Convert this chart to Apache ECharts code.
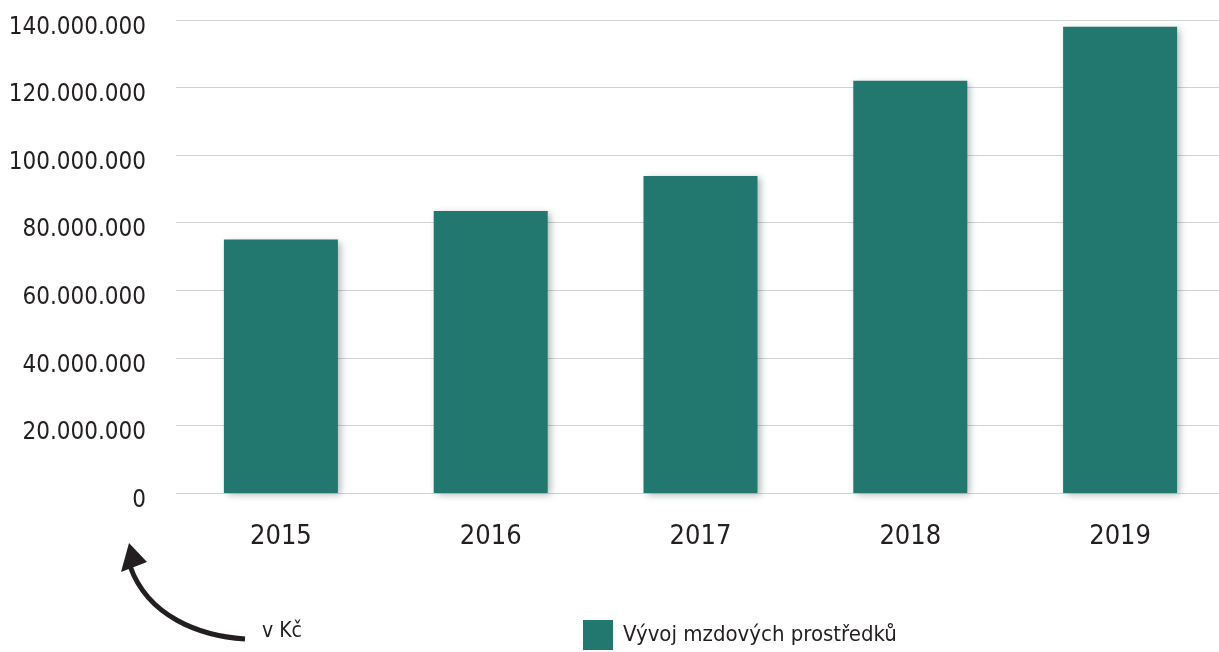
<!DOCTYPE html>
<html>
<head>
<meta charset="utf-8">
<script src="https://cdn.jsdelivr.net/npm/echarts@6/dist/echarts.min.js"></script>
<style>
  html, body { margin: 0; padding: 0; background: #fff; }
  #chart { width: 1219px; height: 652px; }
</style>
</head>
<body>
<div id="chart"></div>
<script>
// data
const years = ["2015", "2016", "2017", "2018", "2019"]
const wageFunds = [75000000, 83500000, 93800000, 122000000, 138000000]
const seriesName = "Vývoj mzdových prostředků"
const unitLabel = "v Kč"

const font = "'DejaVu Sans Condensed', 'Liberation Sans Narrow', sans-serif"
const teal = "#22786f"
const ink = "#231f20"

// 1.000.000 style
const fmt = v => String(v).replace(/\B(?=(\d{3})+(?!\d))/g, ".")

const chart = echarts.init(document.getElementById("chart"))
chart.setOption({
  animation: false,
  grid: { left: 176, right: -6, top: 20, bottom: 159, outerBoundsMode: "none", containLabel: false },
  legend: {
    data: [seriesName],
    left: 578,
    top: 615,
    icon: "rect",
    itemWidth: 30,
    itemHeight: 30,
    textStyle: { fontFamily: font, fontSize: 22, color: ink, padding: [0, 0, 0, 5] }
  },
  xAxis: {
    type: "category",
    data: years,
    axisLine: { show: false },
    axisTick: { show: false },
    axisLabel: { margin: 30, fontFamily: font, fontSize: 27, color: ink }
  },
  yAxis: {
    type: "value",
    min: 0,
    max: 140000000,
    interval: 20000000,
    axisLine: { show: false },
    axisTick: { show: false },
    splitLine: { lineStyle: { color: "#d2d2d2", width: 1 } },
    axisLabel: {
      margin: 30,
      fontFamily: font,
      fontSize: 24,
      lineHeight: 15,
      color: ink,
      verticalAlign: "top",
      formatter: fmt
    }
  },
  series: [{
    name: seriesName,
    type: "bar",
    data: wageFunds,
    barWidth: 114,
    itemStyle: {
      color: teal,
      shadowColor: "rgba(20, 50, 50, 0.35)",
      shadowBlur: 7,
      shadowOffsetX: 3,
      shadowOffsetY: 2
    }
  }],
  graphic: [
    // curved arrow pointing at the y axis
    {
      type: "bezierCurve",
      shape: { x1: 245, y1: 639, cpx1: 200, cpy1: 636, cpx2: 148, cpy2: 617, x2: 130, y2: 566 },
      style: { stroke: ink, lineWidth: 5, fill: null }
    },
    {
      type: "polygon",
      shape: { points: [[129, 543], [121, 572], [147, 562]] },
      style: { fill: ink }
    },
    {
      type: "text",
      left: 262,
      top: 621,
      style: { text: unitLabel, font: "21px " + font, fill: ink }
    }
  ]
})
</script>
</body>
</html>
